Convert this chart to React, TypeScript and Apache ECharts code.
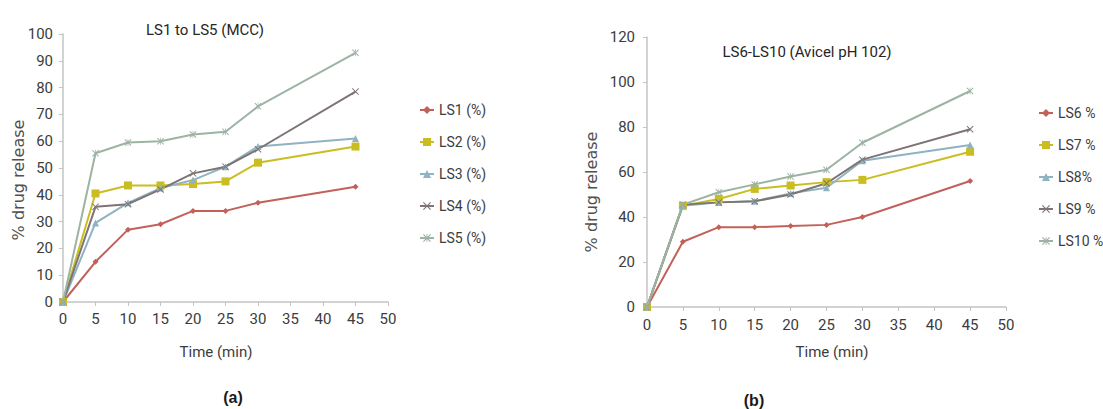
import React, { useEffect, useRef } from "react";
import * as echarts from "echarts";

const TIME = [0, 5, 10, 15, 20, 25, 30, 45];

const NAMES_A = ["LS1 (%)", "LS2 (%)", "LS3 (%)", "LS4 (%)", "LS5 (%)"];
const LS1 = [0, 15, 27, 29, 34, 34, 37, 43];
const LS2 = [0, 40.5, 43.5, 43.5, 44, 45, 52, 58];
const LS3 = [0, 29.5, 37, 42.5, 45.5, 50.5, 58, 61];
const LS4 = [0, 35.5, 36.5, 42, 48, 50.5, 57, 78.5];
const LS5 = [0, 55.5, 59.5, 60, 62.5, 63.5, 73, 93];

const NAMES_B = ["LS6 %", "LS7 %", "LS8%", "LS9 %", "LS10 %"];
const LS6 = [0, 29, 35.5, 35.5, 36, 36.5, 40, 56];
const LS7 = [0, 45, 48, 52.5, 54, 55.5, 56.5, 69];
const LS8 = [0, 45, 46.5, 47, 50.5, 53, 65, 72];
const LS9 = [0, 45.5, 46.5, 47, 50, 55, 65.5, 79];
const LS10 = [0, 45.5, 51, 54.5, 58, 61, 73, 96];

const COLORS = ["#c2615a", "#c9bd22", "#8fb3c2", "#7e7474", "#9db3a4"];
const XPATH =
  "path://M0,1 L1,0 L5,4 L9,0 L10,1 L6,5 L10,9 L9,10 L5,6 L1,10 L0,9 L4,5 Z";
const STARPATH =
  "path://M0,1 L1,0 L4.5,3.5 L4.5,0 L5.5,0 L5.5,3.5 L9,0 L10,1 L6,5 L10,9 L9,10 L5.5,6.5 L5.5,10 L4.5,10 L4.5,6.5 L1,10 L0,9 L4,5 Z";
const SYMBOLS = ["diamond", "rect", "triangle", XPATH, STARPATH];
const SIZES = [6, 8, 7, 7, 7];

const FONT = "Roboto, 'Noto Sans', sans-serif";

export default function App() {
  const ref = useRef<HTMLDivElement>(null);
  useEffect(() => {
    if (!ref.current) return;
    const chart = echarts.init(ref.current, null, { renderer: "svg" });
    const mk = (name: string, vals: number[], idx: number, k: number) => ({
      name,
      type: "line",
      xAxisIndex: idx,
      yAxisIndex: idx,
      data: TIME.map((t, i) => [t, vals[i]]),
      symbol: SYMBOLS[k],
      symbolSize: SIZES[k],
      color: COLORS[k],
      lineStyle: { width: 2, color: COLORS[k] },
      itemStyle: { color: COLORS[k] },
    });
    const axisCommon = {
      axisLine: { show: true, lineStyle: { color: "#c4c4c4", width: 1.5 } },
      axisTick: { show: true, length: 4, lineStyle: { color: "#c4c4c4" } },
      splitLine: { show: false },
      axisLabel: { color: "#3c3c3c", fontSize: 15, fontFamily: FONT },
    };
    const legendCommon = {
      orient: "vertical",
      itemWidth: 14,
      itemHeight: 10,
      itemGap: 14,
      textStyle: { color: "#3c3c3c", fontSize: 14, fontFamily: FONT, lineHeight: 18 },
    };
    chart.setOption({
      animation: false,
      backgroundColor: "#ffffff",
      title: [
        {
          text: "LS1 to LS5 (MCC)",
          left: 200,
          top: 17,
          textAlign: "center",
          textStyle: { fontSize: 15, fontWeight: "normal", color: "#262626", fontFamily: FONT },
        },
        {
          text: "LS6-LS10 (Avicel pH 102)",
          left: 802,
          top: 39,
          textAlign: "center",
          textStyle: { fontSize: 15, fontWeight: "normal", color: "#262626", fontFamily: FONT },
        },
      ],
      grid: [
        { left: 63, top: 34, width: 325, height: 268 },
        { left: 647, top: 37, width: 359, height: 270 },
      ],
      xAxis: [
        { type: "value", gridIndex: 0, min: 0, max: 50, interval: 5, ...axisCommon, axisLabel: { ...axisCommon.axisLabel, margin: 9 } },
        { type: "value", gridIndex: 1, min: 0, max: 50, interval: 5, ...axisCommon, axisLabel: { ...axisCommon.axisLabel, margin: 10 } },
      ],
      yAxis: [
        { type: "value", gridIndex: 0, min: 0, max: 100, interval: 10, ...axisCommon, axisLabel: { ...axisCommon.axisLabel, margin: 10 } },
        { type: "value", gridIndex: 1, min: 0, max: 120, interval: 20, ...axisCommon, axisLabel: { ...axisCommon.axisLabel, margin: 12 } },
      ],
      legend: [
        { ...legendCommon, data: NAMES_A, left: 414, top: 96 },
        { ...legendCommon, data: NAMES_B, left: 1033, top: 99 },
      ],
      graphic: [
        {
          type: "text",
          x: 18,
          y: 180,
          rotation: Math.PI / 2,
          style: { text: "% drug release", fontSize: 16, fill: "#505050", fontFamily: "'DejaVu Sans', sans-serif", align: "center", verticalAlign: "middle" },
        },
        {
          type: "text",
          x: 591,
          y: 192,
          rotation: Math.PI / 2,
          style: { text: "% drug release", fontSize: 16, fill: "#505050", fontFamily: "'DejaVu Sans', sans-serif", align: "center", verticalAlign: "middle" },
        },
        {
          type: "text",
          x: 216,
          y: 352,
          style: { text: "Time (min)", fontSize: 15, fill: "#3c3c3c", fontFamily: FONT, align: "center", verticalAlign: "middle" },
        },
        {
          type: "text",
          x: 832,
          y: 352,
          style: { text: "Time (min)", fontSize: 15, fill: "#3c3c3c", fontFamily: FONT, align: "center", verticalAlign: "middle" },
        },
        {
          type: "text",
          x: 233,
          y: 397,
          style: { text: "(a)", fontSize: 16, fontWeight: "bold", fill: "#1a1a1a", fontFamily: "'Liberation Sans', Arial, sans-serif", align: "center", verticalAlign: "middle" },
        },
        {
          type: "text",
          x: 754,
          y: 400,
          style: { text: "(b)", fontSize: 16, fontWeight: "bold", fill: "#1a1a1a", fontFamily: "'Liberation Sans', Arial, sans-serif", align: "center", verticalAlign: "middle" },
        },
      ],
      series: [
        mk(NAMES_A[0], LS1, 0, 0),
        mk(NAMES_A[1], LS2, 0, 1),
        mk(NAMES_A[2], LS3, 0, 2),
        mk(NAMES_A[3], LS4, 0, 3),
        mk(NAMES_A[4], LS5, 0, 4),
        mk(NAMES_B[0], LS6, 1, 0),
        mk(NAMES_B[1], LS7, 1, 1),
        mk(NAMES_B[2], LS8, 1, 2),
        mk(NAMES_B[3], LS9, 1, 3),
        mk(NAMES_B[4], LS10, 1, 4),
      ],
    });
    return () => chart.dispose();
  }, []);
  return (
    <div
      ref={ref}
      style={{ position: "absolute", left: 0, top: 0, width: 1103, height: 409, background: "#fff" }}
    />
  );
}
